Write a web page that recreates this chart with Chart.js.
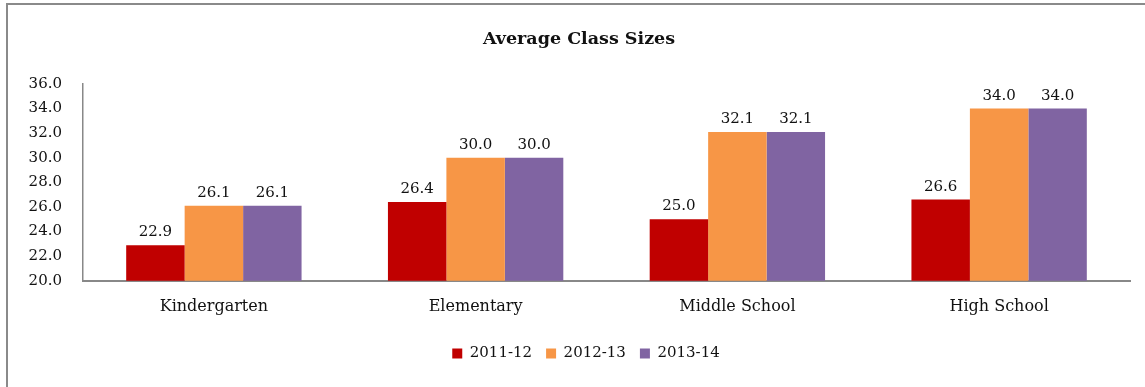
<!DOCTYPE html>
<html>
<head>
<meta charset="utf-8">
<script src="https://cdn.jsdelivr.net/npm/chart.js@4/dist/chart.umd.min.js"></script>
<style>
  html, body { margin: 0; padding: 0; background: #fff; overflow: hidden; }
  #frame {
    position: absolute; left: 6px; top: 3px; width: 1160px; height: 420px;
    border: 2px solid #8a8a8a; box-sizing: border-box;
  }
  #wrap { position: absolute; left: 0; top: 0; width: 1145px; height: 387px; }
</style>
</head>
<body>
<div id="frame"></div>
<div id="wrap"><canvas id="chart" width="1145" height="387"></canvas></div>
<script>
// School levels and average class sizes per school year
const categories = ['Kindergarten', 'Elementary', 'Middle School', 'High School'];
const years = ['2011-12', '2012-13', '2013-14'];
const sizes2011 = [22.9, 26.4, 25.0, 26.6];
const sizes2012 = [26.1, 30.0, 32.1, 34.0];
const sizes2013 = [26.1, 30.0, 32.1, 34.0];
const yTicks = [20, 22, 24, 26, 28, 30, 32, 34, 36];

const colors = ['#C00000', '#F79646', '#8064A2'];
const FONT = 'DejaVu Serif';

// Writes each bar's value just above it
const valueLabels = {
  id: 'valueLabels',
  afterDatasetsDraw(chart) {
    const ctx = chart.ctx;
    ctx.save();
    ctx.font = '15px "' + FONT + '"';
    ctx.fillStyle = '#111';
    ctx.textAlign = 'center';
    ctx.textBaseline = 'alphabetic';
    chart.data.datasets.forEach((ds, i) => {
      chart.getDatasetMeta(i).data.forEach((bar, j) => {
        ctx.fillText(ds.data[j].toFixed(1), bar.x, bar.y - 9);
      });
    });
    ctx.restore();
  }
};

// Nudges the legend row a little to the right of the centre line
const legendNudge = {
  id: 'legendNudge',
  afterLayout(chart) {
    const lg = chart.legend;
    if (!lg) return;
    lg.left += 7;
    lg.right += 7;
    lg.adjustHitBoxes && lg.adjustHitBoxes();
  }
};

new Chart(document.getElementById('chart'), {
  type: 'bar',
  data: {
    labels: categories,
    datasets: [
      { label: years[0], data: sizes2011, backgroundColor: colors[0] },
      { label: years[1], data: sizes2012, backgroundColor: colors[1] },
      { label: years[2], data: sizes2013, backgroundColor: colors[2] }
    ]
  },
  options: {
    responsive: false,
    animation: false,
    layout: { padding: { left: 28, right: 15, top: 29, bottom: 16 } },
    datasets: { bar: { categoryPercentage: 0.67, barPercentage: 1.0 } },
    plugins: {
      title: {
        display: true,
        text: 'Average Class Sizes',
        color: '#111',
        font: { family: FONT, size: 17.5, weight: 'bold' },
        padding: { top: 0, bottom: 34 }
      },
      legend: {
        position: 'bottom',
        labels: {
          color: '#111',
          font: { family: FONT, size: 15 },
          boxWidth: 10, boxHeight: 10,
          padding: 14
        }
      },
      tooltip: { enabled: false }
    },
    scales: {
      x: {
        grid: { display: false, drawTicks: false },
        border: { color: '#888', width: 2 },
        ticks: { color: '#111', font: { family: FONT, size: 16 }, padding: 16 }
      },
      y: {
        min: 20, max: 36,
        afterBuildTicks(scale) { scale.ticks = yTicks.map(v => ({ value: v })); },
        afterFit(scale) { scale.width = 55; },
        grid: { display: false, drawTicks: false },
        border: { color: '#888', width: 1.5 },
        ticks: {
          color: '#111',
          font: { family: FONT, size: 15 },
          padding: 21,
          callback: v => Number(v).toFixed(1)
        }
      }
    }
  },
  plugins: [valueLabels, legendNudge]
});
</script>
</body>
</html>
